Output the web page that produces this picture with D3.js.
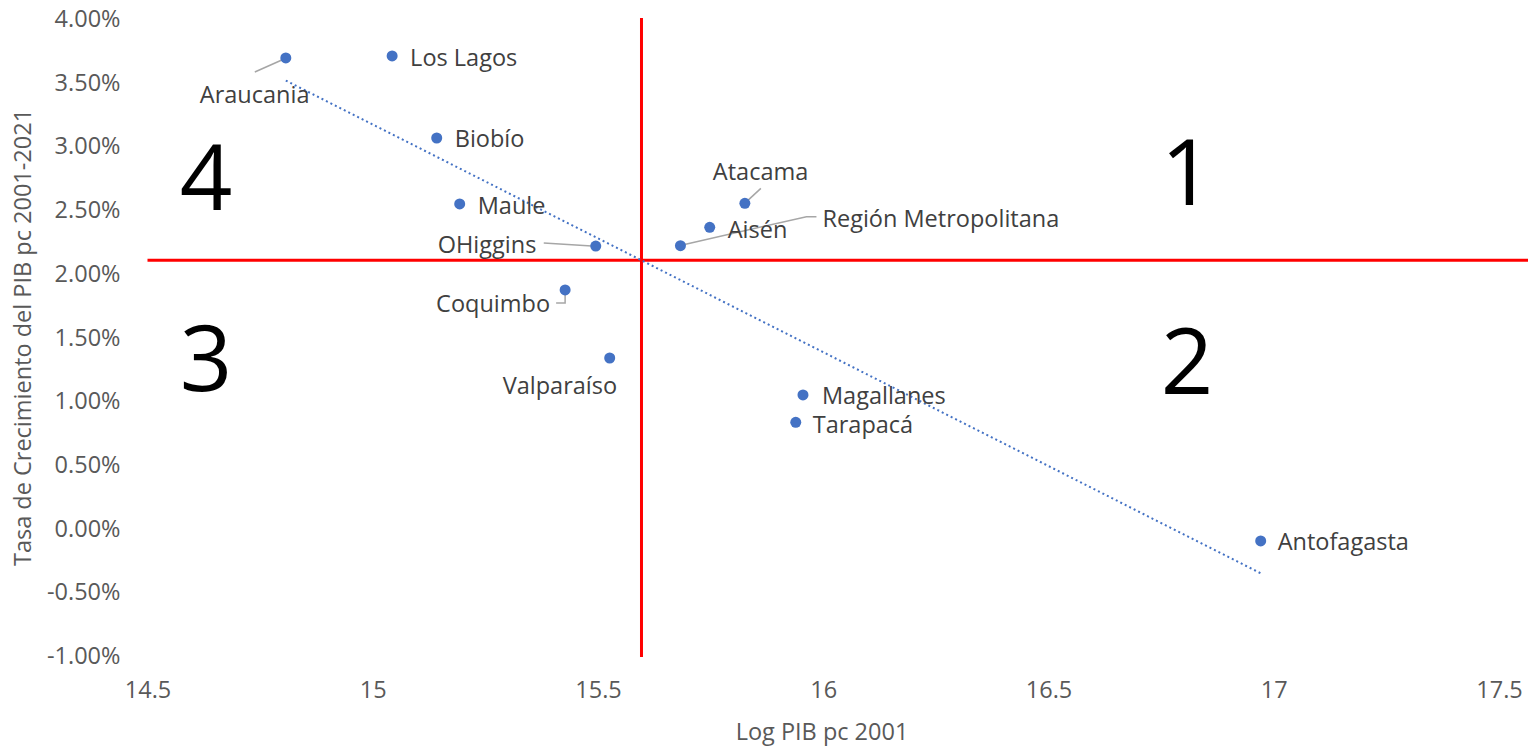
<!DOCTYPE html>
<html>
<head>
<meta charset="utf-8">
<script src="https://cdn.jsdelivr.net/npm/d3@7"></script>
<style>
  html, body { margin: 0; padding: 0; background: #fff; }
  svg { display: block; }
</style>
</head>
<body>
<svg id="chart" width="1533" height="748"></svg>
<script>
// ---- Data ----
const regions = ["Araucania", "Los Lagos", "Biobío", "Maule", "OHiggins", "Coquimbo", "Valparaíso",
                 "Atacama", "Aisén", "Región Metropolitana", "Magallanes", "Tarapacá", "Antofagasta"];
const logPib2001 = [14.807, 15.043, 15.142, 15.193, 15.495, 15.427, 15.526,
                    15.826, 15.748, 15.683, 15.955, 15.939, 16.971];
const growthRate = [3.694, 3.71, 3.066, 2.548, 2.218, 1.873, 1.339,
                    2.553, 2.365, 2.221, 1.049, 0.834, -0.097];
const xTicks = [14.5, 15, 15.5, 16, 16.5, 17, 17.5];
const yTicks = [-1, -0.5, 0, 0.5, 1, 1.5, 2, 2.5, 3, 3.5, 4];
const quadrantLabels = ["1", "2", "3", "4"];
const xTitle = "Log PIB pc 2001";
const yTitle = "Tasa de Crecimiento del PIB pc 2001-2021";

// ---- Layout (label placement, pixels relative to point) ----
const labelLayout = {
  "Araucania": {dx: -86, dy: 37, leader: [[-4, 2], [-31, 14]]},
  "Los Lagos": {dx: 18, dy: 2},
  "Biobío": {dx: 18, dy: 1},
  "Maule": {dx: 18, dy: 2},
  "OHiggins": {dx: -158, dy: -1, leader: [[-4, 0], [-52, -3]]},
  "Coquimbo": {dx: -129, dy: 14, leader: [[0, 4], [0, 13], [-9, 13]]},
  "Valparaíso": {dx: -107, dy: 28},
  "Atacama": {dx: -32, dy: -32, leader: [[3, -3], [16, -15]]},
  "Aisén": {dx: 18, dy: 2},
  "Región Metropolitana": {dx: 142, dy: -27, leader: [[3, -1], [126, -29], [136, -29]]},
  "Magallanes": {dx: 19, dy: 1},
  "Tarapacá": {dx: 17, dy: 2},
  "Antofagasta": {dx: 17, dy: 1}
};
const quadrantPos = {"1": [1187, 205], "2": [1187, 394], "3": [206, 391], "4": [206, 210]};

const W = 1533, H = 748;
const pLeft = 147.5, pRight = 1499, pTop = 19, pBottom = 656;
const font = "'Open Sans', 'Noto Sans', sans-serif";
const fs = 23.5;

const svg = d3.select("#chart");
svg.append("rect").attr("width", W).attr("height", H).attr("fill", "#fff");

const x = d3.scaleLinear().domain([14.5, 17.5]).range([pLeft, pRight]);
const y = d3.scaleLinear().domain([-1, 4]).range([pBottom, pTop]);

const data = regions.map((r, i) => ({name: r, x: logPib2001[i], y: growthRate[i]}));

// axes
const xAxis = svg.append("g").attr("transform", `translate(0,${pBottom})`)
  .call(d3.axisBottom(x).tickValues(xTicks).tickSize(0).tickPadding(25).tickFormat(d3.format("")));
xAxis.select(".domain").remove();
xAxis.selectAll("text").attr("font-family", font).attr("font-size", fs).attr("fill", "#595959");

const pct = d => (d < 0 ? "-" : "") + d3.format(".2f")(Math.abs(d)) + "%";
const yAxis = svg.append("g").attr("transform", `translate(${pLeft},0)`)
  .call(d3.axisLeft(y).tickValues(yTicks).tickSize(0).tickPadding(27).tickFormat(pct));
yAxis.select(".domain").remove();
yAxis.selectAll("text").attr("font-family", font).attr("font-size", fs).attr("fill", "#595959");

// titles
svg.append("text").attr("x", 822).attr("y", 740)
  .attr("text-anchor", "middle").attr("font-family", font).attr("font-size", fs).attr("fill", "#595959")
  .text(xTitle);
svg.append("text").attr("transform", `translate(31,${(pTop + pBottom) / 2}) rotate(-90)`)
  .attr("text-anchor", "middle").attr("font-family", font).attr("font-size", fs).attr("fill", "#595959")
  .text(yTitle);

// mean lines (red quadrant lines)
const meanX = d3.mean(logPib2001), meanY = d3.mean(growthRate);
svg.append("line").attr("x1", x(meanX)).attr("x2", x(meanX)).attr("y1", pTop - 1).attr("y2", pBottom + 1)
  .attr("stroke", "#FF0000").attr("stroke-width", 3);
svg.append("line").attr("x1", pLeft).attr("x2", 1528).attr("y1", y(meanY)).attr("y2", y(meanY))
  .attr("stroke", "#FF0000").attr("stroke-width", 3);

// linear trendline (least squares)
const sxx = d3.sum(logPib2001, v => (v - meanX) ** 2);
const sxy = d3.sum(data, d => (d.x - meanX) * (d.y - meanY));
const slope = sxy / sxx, intercept = meanY - slope * meanX;
const [xmin, xmax] = d3.extent(logPib2001);
svg.append("line")
  .attr("x1", x(xmin)).attr("y1", y(intercept + slope * xmin))
  .attr("x2", x(xmax)).attr("y2", y(intercept + slope * xmax))
  .attr("stroke", "#4472C4").attr("stroke-width", 2).attr("stroke-dasharray", "2,3");

// quadrant numbers
svg.selectAll(".quad").data(quadrantLabels).join("text")
  .attr("x", d => quadrantPos[d][0]).attr("y", d => quadrantPos[d][1])
  .attr("text-anchor", "middle").attr("font-family", font).attr("font-size", 92).attr("fill", "#000")
  .text(d => d);

// leader lines
data.forEach(d => {
  const L = labelLayout[d.name];
  if (L.leader) {
    svg.append("polyline")
      .attr("points", L.leader.map(p => [x(d.x) + p[0], y(d.y) + p[1]].join(",")).join(" "))
      .attr("fill", "none").attr("stroke", "#A6A6A6").attr("stroke-width", 1.5);
  }
});

// points
svg.selectAll(".pt").data(data).join("circle")
  .attr("cx", d => x(d.x)).attr("cy", d => y(d.y)).attr("r", 5.5).attr("fill", "#4472C4");

// labels
svg.selectAll(".lbl").data(data).join("text")
  .attr("x", d => x(d.x) + labelLayout[d.name].dx)
  .attr("y", d => y(d.y) + labelLayout[d.name].dy)
  .attr("dy", "0.35em")
  .attr("font-family", font).attr("font-size", fs).attr("fill", "#404040")
  .text(d => d.name);
</script>
</body>
</html>
